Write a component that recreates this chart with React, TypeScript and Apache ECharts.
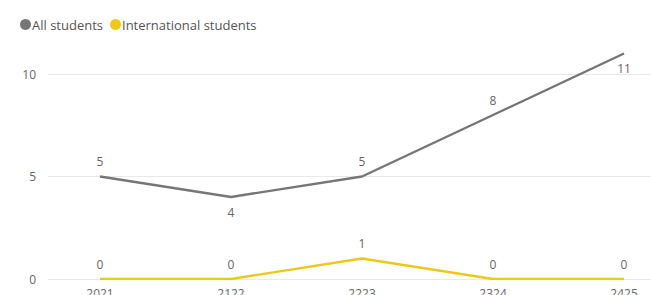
import React, { useEffect, useRef } from "react";
import * as echarts from "echarts";

const categories = ["2021", "2122", "2223", "2324", "2425"];
const allStudents = [5, 4, 5, 8, 11];
const allLabelPos = ["top", "bottom", "top", "top", "bottom"];
const intlStudents = [0, 0, 1, 0, 0];
const intlLabelPos = ["top", "top", "top", "top", "top"];
const yTicks = [0, 5, 10];

const GREY = "#767676";
const YELLOW = "#EFC817";
const LABEL = "#666666";
const FONT = "'Open Sans', 'Noto Sans', sans-serif";

export default function App() {
  const ref = useRef<HTMLDivElement>(null);
  useEffect(() => {
    document.body.style.margin = "0";
    if (!ref.current) return;
    const chart = echarts.init(ref.current, null, { renderer: "svg" });
    const xIdx = categories.map((_, i) => i);
    const mk = (vals: number[], pos: string[]) =>
      vals.map((v, i) => ({
        value: [i, v],
        label: { position: pos[i], color: LABEL },
      }));
    const lbl = {
      show: true,
      color: LABEL,
      fontSize: 12,
      distance: 8,
      fontFamily: FONT,
      formatter: (p: any) => String(p.value[1]),
    };
    chart.setOption({
      animation: false,
      textStyle: { fontFamily: FONT },
      legend: {
        left: 15,
        top: 13,
        itemWidth: 11,
        itemHeight: 11,
        itemGap: 7,
        icon: "circle",
        textStyle: { fontFamily: FONT, fontSize: 13, color: "#555", padding: [0, 0, 0, -4] },
        data: [
          { name: "All students", itemStyle: { color: GREY, opacity: 1 } },
          { name: "International students", itemStyle: { color: YELLOW, opacity: 1 } },
        ],
      },
      grid: { left: 48, right: 0, top: 33, bottom: 16, containLabel: false, outerBoundsMode: "none" },
      xAxis: {
        type: "value",
        min: -0.397,
        max: 4.206,
        axisLine: { show: false },
        axisTick: { show: false, customValues: xIdx },
        splitLine: { show: false },
        axisLabel: {
          customValues: xIdx,
          formatter: (v: number) => categories[Math.round(v)] ?? "",
          color: LABEL,
          fontSize: 12,
          margin: 8,
          fontFamily: FONT,
        },
      },
      yAxis: {
        type: "value",
        min: 0,
        max: 12,
        axisLine: { show: false },
        axisTick: { show: false, customValues: yTicks },
        axisLabel: {
          customValues: yTicks,
          color: LABEL,
          fontSize: 12,
          margin: 12,
          fontFamily: FONT,
        },
        splitLine: { show: true, lineStyle: { color: "#e9e9e9", width: 1 } },
      },
      series: [
        {
          name: "All students",
          type: "line",
          data: mk(allStudents, allLabelPos),
          lineStyle: { width: 2.4, color: GREY },
          symbol: "circle",
          symbolSize: 2,
          showSymbol: true,
          itemStyle: { color: "rgba(0,0,0,0)" },
          label: lbl,
        },
        {
          name: "International students",
          type: "line",
          data: mk(intlStudents, intlLabelPos),
          lineStyle: { width: 2.4, color: YELLOW },
          symbol: "circle",
          symbolSize: 2,
          showSymbol: true,
          itemStyle: { color: "rgba(0,0,0,0)" },
          label: lbl,
        },
      ],
    });
    return () => chart.dispose();
  }, []);
  return <div ref={ref} style={{ width: 651, height: 295 }} />;
}
